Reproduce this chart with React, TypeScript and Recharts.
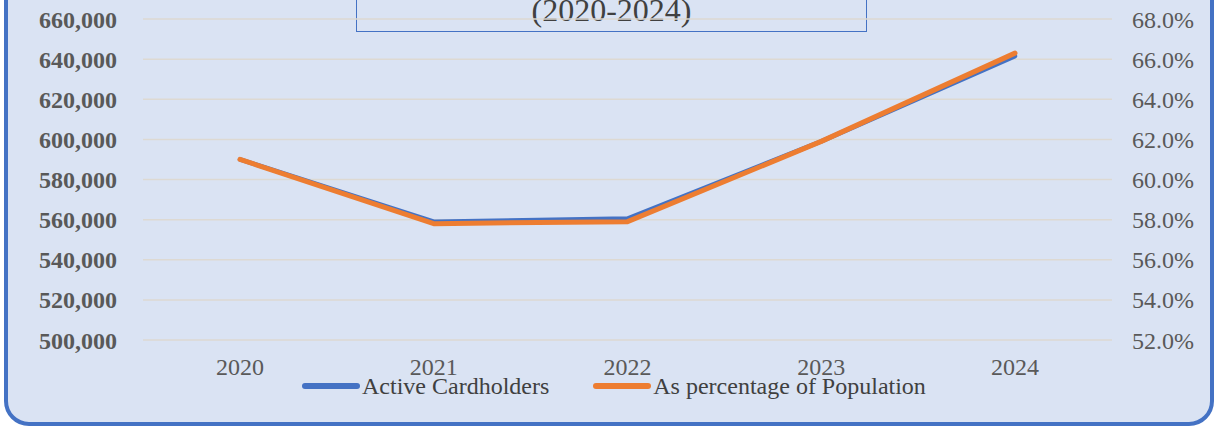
import React from "react";
import { LineChart, Line, XAxis, YAxis, CartesianGrid, Legend } from "recharts";

const years = ["2020", "2021", "2022", "2023", "2024"];
const activeCardholders = [590000, 559000, 560500, 599000, 641500];
const pctOfPopulation = [61.0, 57.8, 57.9, 61.9, 66.3];
const leftTicks = [500000, 520000, 540000, 560000, 580000, 600000, 620000, 640000, 660000];
const rightTicks = [52, 54, 56, 58, 60, 62, 64, 66, 68];
const seriesNames = ["Active Cardholders", "As percentage of Population"];
const seriesColors = ["#4472C4", "#ED7D31"];
const titleLine = "(2020-2024)";

const data = years.map((y, i) => ({
  year: y,
  cardholders: activeCardholders[i],
  pct: pctOfPopulation[i],
}));

const FONT = '"Liberation Serif", "Times New Roman", serif';

const renderLegend = () => (
  <div
    style={{
      display: "flex",
      alignItems: "center",
      fontFamily: FONT,
      fontSize: 24,
      lineHeight: "28px",
      color: "#404040",
      whiteSpace: "nowrap",
    }}
  >
    {seriesNames.map((name, i) => (
      <div key={name} style={{ display: "flex", alignItems: "center", marginLeft: i === 0 ? 0 : 44 }}>
        <span
          style={{
            display: "inline-block",
            width: 58,
            height: 6,
            borderRadius: 3,
            background: seriesColors[i],
            marginRight: 2,
          }}
        />
        <span>{name}</span>
      </div>
    ))}
  </div>
);

export default function App() {
  return (
    <div style={{ position: "absolute", left: 0, top: 0, width: 1216, height: 434, background: "#ffffff", overflow: "hidden" }}>
      <div
        style={{
          position: "absolute",
          left: 4,
          top: -40,
          width: 1202,
          height: 458,
          background: "#DAE3F3",
          border: "4px solid #4472C4",
          borderRadius: 25,
        }}
      />
      <div
        style={{
          position: "absolute",
          left: 356,
          top: -40,
          width: 511,
          height: 72,
          border: "1.5px solid #4472C4",
          boxSizing: "border-box",
        }}
      />
      <div
        style={{
          position: "absolute",
          left: 356,
          top: -8,
          width: 511,
          textAlign: "center",
          fontFamily: FONT,
          fontSize: 32,
          lineHeight: "36px",
          color: "#404040",
        }}
      >
        {titleLine}
      </div>
      <div style={{ position: "absolute", left: 0, top: 0 }}>
        <LineChart width={1216} height={434} data={data} margin={{ top: 19, right: 0, bottom: 64, left: 0 }}>
          <CartesianGrid yAxisId="left" vertical={false} stroke="#DDD9D2" strokeWidth={1.5} />
          <XAxis
            dataKey="year"
            axisLine={false}
            tickLine={false}
            height={30}
            padding={{ left: 97, right: 97 }}
            tickMargin={12}
            tick={{ fontFamily: FONT, fontSize: 24, fill: "#595959" }}
          />
          <YAxis
            yAxisId="left"
            orientation="left"
            width={143}
            domain={[500000, 660000]}
            ticks={leftTicks}
            axisLine={false}
            tickLine={false}
            tickMargin={20}
            tickFormatter={(v: number) => v.toLocaleString("en-US")}
            tick={{ fontFamily: FONT, fontSize: 24, fontWeight: "bold", fill: "#595959" }}
          />
          <YAxis
            yAxisId="right"
            orientation="right"
            width={104}
            domain={[52, 68]}
            ticks={rightTicks}
            axisLine={false}
            tickLine={false}
            tickMargin={14}
            tickFormatter={(v: number) => `${v.toFixed(1)}%`}
            tick={{ fontFamily: FONT, fontSize: 24, fill: "#595959" }}
          />
          <Legend
            layout="horizontal"
            verticalAlign="middle"
            align="center"
            content={renderLegend}
            wrapperStyle={{ left: 302, top: 372, width: 700 }}
          />
          <Line
            yAxisId="left"
            dataKey="cardholders"
            name={seriesNames[0]}
            stroke={seriesColors[0]}
            strokeWidth={4.5}
            dot={false}
            strokeLinecap="round"
            strokeLinejoin="round"
            isAnimationActive={false}
          />
          <Line
            yAxisId="right"
            dataKey="pct"
            name={seriesNames[1]}
            stroke={seriesColors[1]}
            strokeWidth={5}
            dot={false}
            strokeLinecap="round"
            strokeLinejoin="round"
            isAnimationActive={false}
          />
        </LineChart>
      </div>
    </div>
  );
}
